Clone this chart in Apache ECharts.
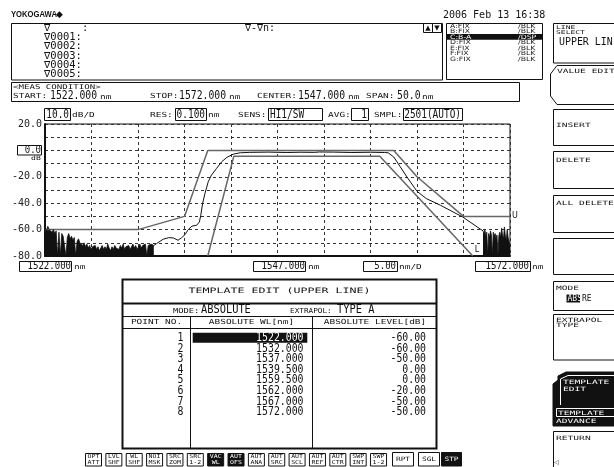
<!DOCTYPE html>
<html>
<head>
<meta charset="utf-8">
<script src="https://cdn.jsdelivr.net/npm/echarts@6/dist/echarts.min.js"></script>
<style>
html, body { margin: 0; padding: 0; background: #fff; }
#chart { width: 614px; height: 467px; }
</style>
</head>
<body>
<div id="chart"></div>
<script>
// template (upper line) points, same as the edit table
var tplPoint = [1, 2, 3, 4, 5, 6, 7, 8];
var tplWl = [1522.000, 1532.000, 1537.000, 1539.500, 1559.500, 1562.000, 1567.000, 1572.000];
var tplLevel = [-60, -60, -50, 0, 0, -20, -50, -50];

// lower line
var lowerWl = [1539.5, 1542.3, 1558.0, 1568.0];
var lowerLevel = [-80, -4.5, -4.5, -80];

// measured trace (passband part)
var traceWl = [1533.7, 1534.0, 1534.7, 1535.3, 1535.8, 1536.3, 1536.7, 1537.05, 1537.4, 1537.8,
  1538.3, 1538.6, 1538.75, 1538.95, 1539.2, 1539.55, 1539.9, 1540.45, 1541.0, 1541.55,
  1542.25, 1543.0, 1544.0, 1546.0, 1548.0, 1549.5, 1551.0, 1551.5, 1553.0, 1555.0,
  1557.0, 1558.5, 1558.9, 1559.5, 1560.2, 1561.0, 1562.0, 1563.0, 1564.5, 1566.9, 1569.1];
var traceLevel = [-72, -70.6, -67.3, -66.1, -66.3, -68.1, -66.1, -63.8, -60, -57.4,
  -56.7, -54.2, -49.1, -40.2, -32.6, -23.8, -18.7, -13.6, -8.6, -5.3,
  -2.8, -1.8, -1.5, -1.3, -1.6, -1.4, -1.5, -1.2, -1.3, -1.6,
  -1.4, -1.6, -1.8, -5, -12.4, -21, -31, -36.5, -41.5, -50.4, -61];

// noise floor, sampled every noiseStep nm
var noiseLeftStart = 1522.0, noiseLeftStep = 0.15;
var noiseLeftLevel = [-58, -61, -57.5, -60, -59, -62, -60, -63, -61, -80,
  -62, -80, -63, -65, -64, -80, -66, -63, -67, -65,
  -68, -66, -80, -69, -67, -70, -69, -72, -70, -73,
  -71, -74, -72, -75, -73, -74, -72, -75, -73, -76,
  -74, -72, -75, -73, -75, -71, -74, -76, -73, -75,
  -72, -74, -73, -75, -72, -74, -71, -75, -73, -74,
  -72, -75, -73, -71, -74, -72, -75, -73, -71, -74,
  -72, -73, -71, -80, -72, -73, -71, -72, -72];
var noiseRightStart = 1569.1, noiseRightStep = 0.1;
var noiseRightLevel = [-61, -63, -60, -65, -62, -80, -63, -66, -61, -64,
  -80, -62, -65, -63, -67, -64, -80, -65, -62, -66,
  -59, -64, -67, -58, -65, -68, -60, -66, -69, -72];

var markerRows = ['\u2207     :', '\u22070001:', '\u22070002:', '\u22070003:', '\u22070004:', '\u22070005:'];
var traceRows = [['A:FIX', '/BLK'], ['B:FIX', '/BLK'], ['C:B-A', '/DSP'], ['D:FIX', '/BLK'],
  ['E:FIX', '/BLK'], ['F:FIX', '/BLK'], ['G:FIX', '/BLK']];
var buttons = [['OPT', 'ATT'], ['LVL', 'SHF'], ['WL', 'SHF'], ['NOI', 'MSK'], ['SRC', 'ZOM'],
  ['SRC', '1-2'], ['VAC', 'WL'], ['AUT', 'OFS'], ['AUT', 'ANA'], ['AUT', 'SRC'], ['AUT', 'SCL'],
  ['AUT', 'REF'], ['AUT', 'CTR'], ['SWP', 'INT'], ['SWP', '1-2']];
var buttonsOn = [6, 7];

var MONO = '"DejaVu Sans Mono", monospace';

function txt(x, y, s, size, opt) {
  opt = opt || {};
  return {
    type: 'text', x: x, y: y, scaleX: opt.sx || 1, silent: true, z: 20,
    style: {
      x: 0, y: 0, text: s,
      font: (opt.bold ? 'bold ' : '') + size + 'px ' + (opt.family || MONO),
      fill: opt.fill || '#111', align: opt.align || 'left', verticalAlign: 'middle'
    }
  };
}
// wide, short label font and tall, narrow digit font of the instrument
function small(x, y, s, opt) { opt = opt || {}; opt.sx = opt.sx || 1.35; return txt(x, y, s, opt.size || 7, opt); }
function big(x, y, s, opt) { opt = opt || {}; opt.sx = opt.sx || 0.82; return txt(x, y, s, opt.size || 12, opt); }
function key(x, y, s, opt) { opt = opt || {}; opt.sx = opt.sx || 1.6; return txt(x, y, s, opt.size || 6, opt); }
function box(x, y, w, h, opt) {
  opt = opt || {};
  return {
    type: 'rect', silent: true, z: opt.z || 10, shape: { x: x, y: y, width: w, height: h },
    style: { fill: opt.fill || 'none', stroke: opt.stroke === undefined ? '#111' : opt.stroke, lineWidth: opt.lw || 1 }
  };
}
function seg(x1, y1, x2, y2, lw) {
  return { type: 'line', silent: true, z: 10, shape: { x1: x1, y1: y1, x2: x2, y2: y2 }, style: { stroke: '#111', lineWidth: lw || 1 } };
}

var g = [];
// top header
g.push(txt(11, 15, 'YOKOGAWA', 9, { bold: true, sx: 0.85, family: '"Liberation Sans", Arial, sans-serif' }));
g.push(txt(56, 15, '\u25C6', 9, { family: '"DejaVu Sans", sans-serif' }));
g.push(txt(443, 15, '2006 Feb 13 16:38', 10));

// marker area
g.push(box(11.5, 23.5, 431, 56.5));
markerRows.forEach(function (r, i) { g.push(txt(44, 28.5 + i * 9.2, r, 10, { sx: 1.05 })); });
g.push(txt(245, 28.5, '\u2207-\u2207n:', 10));
g.push(box(423.5, 23.5, 9, 9), box(432.5, 23.5, 9, 9));
g.push(txt(428, 28, '\u25B2', 7, { align: 'center', family: '"DejaVu Sans", sans-serif' }));
g.push(txt(437, 28, '\u25BC', 7, { align: 'center', family: '"DejaVu Sans", sans-serif' }));

// trace list
g.push(box(446.5, 23.5, 96, 56));
g.push(box(447, 34, 95, 5.8, { fill: '#111', stroke: null }));
traceRows.forEach(function (r, i) {
  var y = 26.3 + i * 5.45;
  var c = i === 2 ? '#fff' : '#222';
  g.push(txt(450, y, r[0], 6, { sx: 1.3, fill: c, family: '"DejaVu Sans", sans-serif' }));
  g.push(txt(518, y, r[1], 6, { sx: 1.3, fill: c, family: '"DejaVu Sans", sans-serif' }));
});

// measure condition
g.push(box(11.5, 82.5, 508, 19));
g.push(small(13, 87, '<MEAS CONDITION>', { size: 6.5, sx: 1.4 }));
g.push(small(13, 96.5, 'START:'));
g.push(big(50, 96, '1522.000', { size: 11.5, sx: 0.85 }));
g.push(small(100, 97, 'nm'));
g.push(small(150, 96.5, 'STOP:'));
g.push(big(179, 96, '1572.000', { size: 11.5, sx: 0.85 }));
g.push(small(229, 97, 'nm'));
g.push(small(257, 96.5, 'CENTER:'));
g.push(big(298, 96, '1547.000', { size: 11.5, sx: 0.85 }));
g.push(small(348, 97, 'nm'));
g.push(small(366, 96.5, 'SPAN:'));
g.push(big(397, 96, '50.0', { size: 11.5, sx: 0.85 }));
g.push(small(422, 97, 'nm'));

// plot header row
g.push(box(44.5, 108.5, 26, 12)); g.push(big(69, 115, '10.0', { align: 'right', size: 11.5 }));
g.push(small(72, 115.5, 'dB/D'));
g.push(small(150, 115.5, 'RES:'));
g.push(box(175.5, 108.5, 31, 12)); g.push(big(205, 115, '0.100', { align: 'right', size: 11.5 }));
g.push(small(208, 115.5, 'nm'));
g.push(small(238, 115.5, 'SENS:'));
g.push(box(268.5, 108.5, 54, 12)); g.push(big(270, 115, 'HI1/SW', { size: 11.5 }));
g.push(small(328, 115.5, 'AVG:'));
g.push(box(351.5, 108.5, 17, 12)); g.push(big(367, 115, '1', { align: 'right', size: 11.5 }));
g.push(small(374, 115.5, 'SMPL:'));
g.push(box(403.5, 108.5, 59, 12)); g.push(big(461, 115, '2501(AUTO)', { align: 'right', size: 11.5 }));

// reference level box
g.push(box(17.5, 145.5, 24, 9.5)); g.push(big(41, 150.5, '0.0', { align: 'right', size: 11 }));
g.push(small(31, 158.5, 'dB', { size: 6 }));

// x scale labels
g.push(box(19.5, 261.5, 52, 10)); g.push(big(71, 266.5, '1522.000', { align: 'right', size: 11 }));
g.push(small(74, 267, 'nm'));
g.push(box(253.5, 261.5, 52, 10)); g.push(big(305, 266.5, '1547.000', { align: 'right', size: 11 }));
g.push(small(308, 267, 'nm'));
g.push(box(363.5, 261.5, 34, 10)); g.push(big(396, 266.5, '5.00', { align: 'right', size: 11 }));
g.push(small(399, 267, 'nm/D'));
g.push(box(475.5, 261.5, 55, 10)); g.push(big(529, 266.5, '1572.000', { align: 'right', size: 11 }));
g.push(small(532, 267, 'nm'));

// template edit table
g.push(box(122.5, 279.5, 314, 169, { lw: 2 }));
g.push(seg(122.5, 303.5, 436.5, 303.5, 2));
g.push(seg(122.5, 316.5, 436.5, 316.5, 1));
g.push(seg(122.5, 328.5, 436.5, 328.5, 1));
g.push(seg(190.5, 316.5, 190.5, 448, 1));
g.push(seg(312.5, 316.5, 312.5, 448, 1));
g.push(small(279.6, 291.5, 'TEMPLATE EDIT (UPPER LINE)', { align: 'center', size: 7.5, sx: 1.55 }));
g.push(small(173, 311, 'MODE:', { sx: 1.25 }));
g.push(big(201, 310.5, 'ABSOLUTE', { size: 11.5, sx: 0.9 }));
g.push(small(290, 311, 'EXTRAPOL:', { sx: 1.1 }));
g.push(big(337, 310.5, 'TYPE A', { size: 11.5, sx: 0.9 }));
g.push(small(156.5, 322.5, 'POINT NO.', { align: 'center' }));
g.push(small(251.5, 322.5, 'ABSOLUTE WL[nm]', { align: 'center' }));
g.push(small(375, 322.5, 'ABSOLUTE LEVEL[dB]', { align: 'center' }));
g.push(box(192.7, 332.7, 114.6, 10, { fill: '#111', stroke: null }));
tplPoint.forEach(function (p, i) {
  var y = 338 + i * 10.57;
  g.push(big(183.5, y, String(p), { align: 'right' }));
  g.push(big(303.5, y, tplWl[i].toFixed(3), { align: 'right', fill: i === 0 ? '#fff' : '#111' }));
  g.push(big(426, y, tplLevel[i].toFixed(2), { align: 'right' }));
});

// bottom status buttons
buttons.forEach(function (b, i) {
  var x = 85 + i * 20.36;
  var on = buttonsOn.indexOf(i) >= 0;
  g.push(box(x + 0.5, 453.5, 16, 12.5, { fill: on ? '#111' : 'none' }));
  g.push(key(x + 8.5, 457, b[0], { size: 5.5, sx: 1.2, align: 'center', fill: on ? '#fff' : '#111' }));
  g.push(key(x + 8.5, 462.5, b[1], { size: 5.5, sx: 1.2, align: 'center', fill: on ? '#fff' : '#111' }));
});
g.push(box(392.5, 452.5, 21, 13.5)); g.push(key(403, 459.5, 'RPT', { size: 6, sx: 1.3, align: 'center' }));
g.push(box(418.5, 452.5, 21, 13.5)); g.push(key(429, 459.5, 'SGL', { size: 6, sx: 1.3, align: 'center' }));
g.push(box(441.5, 452.5, 20, 13.5, { fill: '#111' })); g.push(key(451.5, 459.5, 'STP', { size: 6, sx: 1.3, align: 'center', fill: '#fff' }));

// soft keys on the right
g.push(box(553.5, 23.5, 70, 39.5));
g.push(key(556, 28, 'LINE', { size: 5 }));
g.push(key(556, 32.8, 'SELECT', { size: 5 }));
g.push(big(559, 42.5, 'UPPER LIN', { size: 11, sx: 0.9 }));
g.push({ type: 'polyline', silent: true, z: 10, shape: { points: [[620, 65.5], [557, 65.5], [550.5, 74], [550.5, 96], [557, 104.5], [620, 104.5]] }, style: { stroke: '#111', fill: 'none', lineWidth: 1 } });
g.push(key(557, 71, 'VALUE EDIT'));
g.push(box(553.5, 109.5, 70, 36)); g.push(key(556, 125, 'INSERT'));
g.push(box(553.5, 151.5, 70, 37)); g.push(key(556, 160, 'DELETE'));
g.push(box(553.5, 195.5, 70, 37)); g.push(key(556, 203, 'ALL DELETE'));
g.push(box(553.5, 238.5, 70, 36));
g.push(box(553.5, 281.5, 70, 29)); g.push(key(556, 288, 'MODE'));
g.push(box(566.5, 294.5, 13.5, 8, { fill: '#111', stroke: null }));
g.push(txt(567.5, 298.5, 'ABS', 8, { fill: '#fff' }));
g.push(txt(582, 298.5, 'RE', 8));
g.push(box(553.5, 314.5, 70, 45.5));
g.push(key(556, 320, 'EXTRAPOL'));
g.push(key(556, 325, 'TYPE'));
g.push({ type: 'polygon', silent: true, z: 10, shape: { points: [[553, 426], [553, 384], [558, 380], [558, 376], [566, 372], [620, 372], [620, 426]] }, style: { fill: '#111', stroke: '#111' } });
g.push({ type: 'polyline', silent: true, z: 11, shape: { points: [[560.5, 405], [560.5, 379], [568, 375.5], [620, 375.5]] }, style: { stroke: '#fff', fill: 'none', lineWidth: 1 } });
g.push(key(563, 382, 'TEMPLATE', { fill: '#fff' }));
g.push(key(563, 389, 'EDIT', { fill: '#fff' }));
g.push(box(556.5, 408.5, 60, 8, { stroke: '#fff', z: 11 }));
g.push(key(558, 413, 'TEMPLATE', { fill: '#fff' }));
g.push(key(556, 421, 'ADVANCE', { fill: '#fff' }));
g.push(box(553.5, 431.5, 70, 40)); g.push(key(556, 438, 'RETURN'));
g.push(txt(554, 462, '\u25C1', 6, { family: '"DejaVu Sans", sans-serif' }));

function pairs(xs, ys) { return xs.map(function (x, i) { return [x, ys[i]]; }); }
function sampled(start, step, ys) { return ys.map(function (y, i) { return [+(start + i * step).toFixed(3), y]; }); }

var chart = echarts.init(document.getElementById('chart'), null, { renderer: 'canvas' });
chart.setOption({
  animation: false,
  backgroundColor: '#fff',
  grid: { left: 45, top: 124, right: 104, bottom: 211, show: true, borderColor: '#111', borderWidth: 1, backgroundColor: 'transparent' },
  xAxis: {
    type: 'value', min: 1522, max: 1572, interval: 5,
    axisLine: { show: true, onZero: false, lineStyle: { color: '#111', width: 2 } },
    axisTick: { show: false },
    axisLabel: { show: false },
    splitLine: { show: true, lineStyle: { color: '#333', width: 1, type: [3, 3] } }
  },
  yAxis: {
    type: 'value', min: -80, max: 20, interval: 10,
    axisLine: { show: true, onZero: false, lineStyle: { color: '#111', width: 2 } },
    axisTick: { show: false },
    axisLabel: {
      margin: 3, color: '#222', fontFamily: '"DejaVu Sans Mono", monospace', fontSize: 10,
      formatter: function (v) { return (v % 20 === 0 && v !== 0) ? v.toFixed(1) : ''; }
    },
    splitLine: { show: true, lineStyle: { color: '#333', width: 1, type: [3, 3] } }
  },
  series: [
    {
      name: 'upper', type: 'line', data: pairs(tplWl, tplLevel), showSymbol: false,
      lineStyle: { color: '#666', width: 1.5 },
      endLabel: { show: true, formatter: 'U', color: '#111', fontFamily: '"DejaVu Sans", sans-serif', fontSize: 8, distance: 2 }
    },
    {
      name: 'lower', type: 'line', data: pairs(lowerWl, lowerLevel), showSymbol: false,
      lineStyle: { color: '#666', width: 1.5 },
      endLabel: { show: true, formatter: 'L', color: '#111', fontFamily: '"DejaVu Sans", sans-serif', fontSize: 8, distance: 2, offset: [0, -6] }
    },
    {
      name: 'trace', type: 'line', data: pairs(traceWl, traceLevel), showSymbol: false,
      lineStyle: { color: '#111', width: 1 }
    },
    {
      name: 'noiseL', type: 'line', data: sampled(noiseLeftStart, noiseLeftStep, noiseLeftLevel), showSymbol: false,
      lineStyle: { color: '#111', width: 0.8 }, areaStyle: { color: '#111', opacity: 1, origin: 'start' }
    },
    {
      name: 'noiseR', type: 'line', data: sampled(noiseRightStart, noiseRightStep, noiseRightLevel), showSymbol: false,
      lineStyle: { color: '#111', width: 0.8 }, areaStyle: { color: '#111', opacity: 1, origin: 'start' }
    }
  ],
  graphic: { elements: g }
});
</script>
</body>
</html>
